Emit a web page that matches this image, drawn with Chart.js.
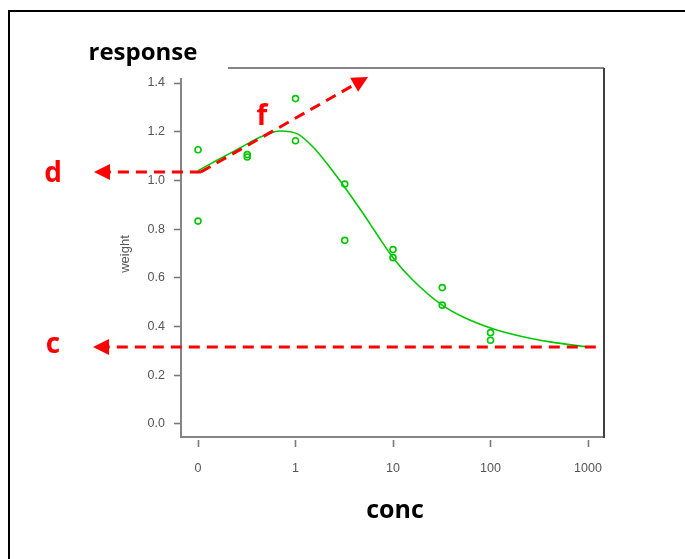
<!DOCTYPE html>
<html>
<head>
<meta charset="utf-8">
<script src="https://cdn.jsdelivr.net/npm/chart.js@4.4.1/dist/chart.umd.min.js"></script>
<style>
  html, body { margin: 0; padding: 0; background: #fff; }
  canvas { display: block; }
</style>
</head>
<body>
<canvas id="chart" width="685" height="559"></canvas>
<script>
// observations (lettuce data)
const conc = [0, 0, 0.32, 0.32, 1, 1, 3.2, 3.2, 10, 10, 32, 32, 100, 100];
const weight = [1.126, 0.833, 1.096, 1.106, 1.163, 1.336, 0.985, 0.754, 0.716, 0.683, 0.560, 0.488, 0.375, 0.344];

// fitted curve; x is log10(conc), conc 0 sits at -1
const curveLogConc = [-1, -0.8, -0.57, -0.36, -0.16, 0.02, 0.18, 0.35, 0.51, 0.69, 0.85, 1.0, 1.2, 1.5, 1.72, 2.0, 2.3, 2.61, 3.0];
const curveWeight = [1.04, 1.084, 1.133, 1.178, 1.203, 1.191, 1.137, 1.055, 0.969, 0.866, 0.77, 0.683, 0.592, 0.489, 0.439, 0.394, 0.361, 0.337, 0.316];

const xTickPos = [-1, 0, 1, 2, 3];
const xTickLabels = ['0', '1', '10', '100', '1000'];
const yTicks = [0, 0.2, 0.4, 0.6, 0.8, 1.0, 1.2, 1.4];

// annotation levels
const dLevel = 1.035;
const cLevel = 0.316;
const cEnd = 3.08;
const fEnd = {x: 0.744, y: 1.425};

const GREEN = '#00c800';
const RED = '#ff0000';

const $ = (id) => document.getElementById(id);
const logPos = (c) => c === 0 ? -1 : Math.log10(c);

function arrow(ctx, x1, y1, x2, y2){
  const ang = Math.atan2(y2 - y1, x2 - x1);
  const len = 16, half = 8;
  const bx = x2 - Math.cos(ang) * len, by = y2 - Math.sin(ang) * len;
  ctx.setLineDash([11, 7]);
  ctx.beginPath(); ctx.moveTo(x1, y1); ctx.lineTo(bx, by); ctx.stroke();
  ctx.setLineDash([]);
  ctx.beginPath();
  ctx.moveTo(x2, y2);
  ctx.lineTo(bx + Math.sin(ang) * half, by - Math.cos(ang) * half);
  ctx.lineTo(bx - Math.sin(ang) * half, by + Math.cos(ang) * half);
  ctx.closePath(); ctx.fill();
}

const decor = {
  id: 'decor',
  afterDraw(chart){
    const {ctx, chartArea: a, scales: {x, y}} = chart;
    ctx.save();
    // outer frame
    ctx.fillStyle = '#000';
    ctx.fillRect(8, 10, 690, 2);
    ctx.fillRect(8, 10, 2, 560);
    // plot box, top-left corner hidden behind the "response" label
    ctx.lineWidth = 2;
    ctx.strokeStyle = '#858585';
    ctx.beginPath();
    ctx.moveTo(228, a.top); ctx.lineTo(a.right, a.top);
    ctx.moveTo(a.left, 78); ctx.lineTo(a.left, a.bottom); ctx.lineTo(a.right, a.bottom);
    ctx.stroke();
    ctx.strokeStyle = '#404040';
    ctx.beginPath(); ctx.moveTo(a.right, a.top); ctx.lineTo(a.right, a.bottom + 1); ctx.stroke();

    // red dashed arrows
    ctx.strokeStyle = RED; ctx.fillStyle = RED; ctx.lineWidth = 3;
    const x0 = x.getPixelForValue(-0.97);
    arrow(ctx, x0, y.getPixelForValue(dLevel), 94, y.getPixelForValue(dLevel));
    arrow(ctx, x.getPixelForValue(cEnd), y.getPixelForValue(cLevel), 93, y.getPixelForValue(cLevel));
    arrow(ctx, x0, y.getPixelForValue(dLevel), x.getPixelForValue(fEnd.x), y.getPixelForValue(fEnd.y));

    // labels
    ctx.textAlign = 'center';
    ctx.textBaseline = 'alphabetic';
    ctx.font = 'bold 28px "Open Sans"';
    ctx.fillText('d', 53, 182);
    ctx.fillText('c', 53, 353);
    ctx.fillText('f', 262, 125);
    ctx.fillStyle = '#000';
    ctx.font = 'bold 24px "Open Sans"';
    ctx.fillText('response', 143, 60);
    ctx.font = 'bold 25px "Open Sans"';
    ctx.fillText('conc', 395, 518);

    ctx.fillStyle = '#555';
    ctx.font = '13px "Liberation Sans"';
    ctx.translate(125, 254);
    ctx.rotate(-Math.PI / 2);
    ctx.textBaseline = 'middle';
    ctx.fillText('weight', 0, 0);
    ctx.restore();
  }
};

const tickFont = {family: '"Liberation Sans"', size: 12.5};

new Chart($('chart'), {
  type: 'scatter',
  data: {
    datasets: [
      {
        data: conc.map((c, i) => ({x: logPos(c), y: weight[i]})),
        borderColor: GREEN, backgroundColor: 'transparent',
        pointRadius: 3, pointBorderWidth: 1.6
      },
      {
        data: curveLogConc.map((v, i) => ({x: v, y: curveWeight[i]})),
        showLine: true, borderColor: GREEN, borderWidth: 1.6,
        pointRadius: 0, cubicInterpolationMode: 'monotone', fill: false
      }
    ]
  },
  options: {
    responsive: false,
    animation: false,
    devicePixelRatio: 1,
    layout: {padding: {left: 0, top: 68, right: 81, bottom: 0}},
    plugins: {legend: {display: false}, tooltip: {enabled: false}},
    scales: {
      x: {
        type: 'linear', min: -1.1744, max: 3.164,
        afterBuildTicks: (s) => { s.ticks = xTickPos.map(v => ({value: v})); },
        afterFit: (s) => { s.height = 122; },
        border: {display: false},
        grid: {drawOnChartArea: false, color: '#7a7a7a', tickWidth: 1.6, tickLength: 10, tickBorderDash: [0, 3, 7, 100]},
        ticks: {
          color: '#555', font: tickFont, padding: 14, maxRotation: 0,
          callback: (v) => xTickLabels[xTickPos.indexOf(v)]
        }
      },
      y: {
        type: 'linear', min: -0.0534, max: 1.4616,
        afterBuildTicks: (s) => { s.ticks = yTicks.map(v => ({value: v})); },
        afterFit: (s) => { s.width = 181; },
        border: {display: false},
        grid: {drawOnChartArea: false, color: '#7a7a7a', tickWidth: 1.6, tickLength: 7},
        ticks: {color: '#555', font: tickFont, padding: 9, callback: (v) => v.toFixed(1)}
      }
    }
  },
  plugins: [decor]
});
</script>
</body>
</html>
